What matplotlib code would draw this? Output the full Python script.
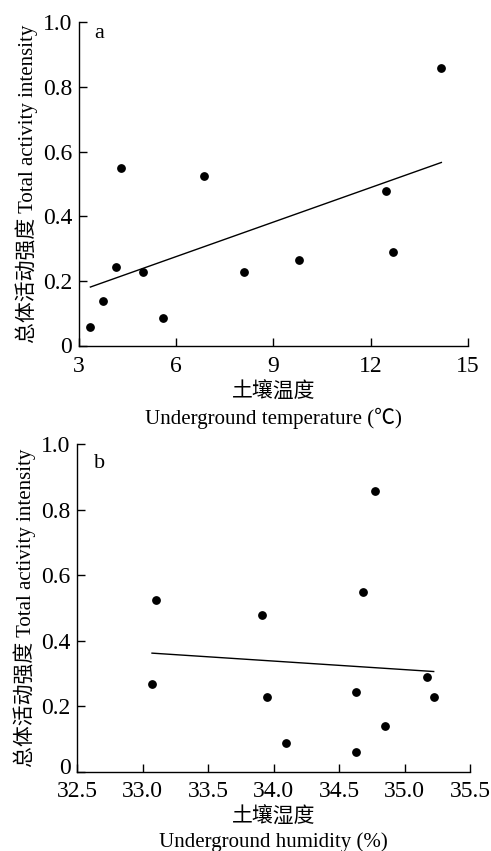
import numpy as np
import matplotlib.pyplot as plt
import matplotlib.transforms as mtransforms

plt.rcParams['font.family'] = ['Liberation Serif', 'Noto Sans CJK SC']

# 数据
activity = [0.06, 0.139, 0.243, 0.551, 0.228, 0.088, 0.526, 0.228, 0.267, 0.479, 0.289, 0.859]
temp = [3.35, 3.73, 4.13, 4.28, 4.96, 5.58, 6.85, 8.09, 9.79, 12.47, 12.68, 14.18]

humid = [33.10, 33.07, 33.91, 33.95, 34.09, 34.63, 34.63, 34.68, 34.77, 34.85, 35.17, 35.22]
activity_h = [0.524, 0.267, 0.478, 0.227, 0.0875, 0.059, 0.242, 0.549, 0.857, 0.138, 0.288, 0.227]

temp_ticks = [3, 6, 9, 12, 15]
humid_ticks = [32.5, 33.0, 33.5, 34.0, 34.5, 35.0, 35.5]
y_ticks = [0, 0.2, 0.4, 0.6, 0.8, 1.0]
y_ticklabels = ['0', '0.2', '0.4', '0.6', '0.8', '1.0']

ylab = '总体活动强度 Total activity intensity'

fig = plt.figure(figsize=(4.91, 8.51), dpi=100)
ax1 = fig.add_axes([0.161, 0.5934, 0.792, 0.3806])
ax2 = fig.add_axes([0.1575, 0.0932, 0.8005, 0.3851])


def style(ax, x, y, xticks, xticklabels, xlabel, letter, lpos, zero_up):
    ax.scatter(x, y, s=28, color='k', zorder=3)
    # 回归线
    k, b = np.polyfit(x, y, 1)
    xs = np.array([min(x), max(x)])
    ax.plot(xs, k * xs + b, color='k', lw=1)

    ax.set_xlim(xticks[0], xticks[-1])
    ax.set_ylim(0, 1.0)
    ax.set_xticks(xticks)
    ax.set_xticklabels(xticklabels)
    ax.set_yticks(y_ticks)
    ax.set_yticklabels(y_ticklabels)
    ax.spines['top'].set_visible(False)
    ax.spines['right'].set_visible(False)
    for s in ['left', 'bottom']:
        ax.spines[s].set_linewidth(1)
    ax.tick_params(direction='in', length=6, width=1, labelsize=17)
    ax.tick_params(axis='x', pad=7)
    ax.tick_params(axis='y', pad=5)
    # "0" 稍微上移
    lab0 = ax.get_yticklabels()[0]
    lab0.set_transform(lab0.get_transform() + mtransforms.ScaledTranslation(
        0, zero_up / 72, fig.dpi_scale_trans))
    ax.set_xlabel(xlabel, fontsize=15, linespacing=1.3, labelpad=4)
    ax.set_ylabel(ylab, fontsize=15, labelpad=3.5)
    ax.text(lpos[0], lpos[1], letter, transform=ax.transAxes, fontsize=16,
            va='baseline', ha='left')


style(ax1, temp, activity, temp_ticks, [str(t) for t in temp_ticks],
      '土壤温度\nUnderground temperature (℃)', 'a', (0.039, 0.952), 1)
style(ax2, humid, activity_h, humid_ticks, ['%.1f' % t for t in humid_ticks],
      '土壤湿度\nUnderground humidity (%)', 'b', (0.043, 0.928), 4)

fig.savefig('out.png', dpi=100)
